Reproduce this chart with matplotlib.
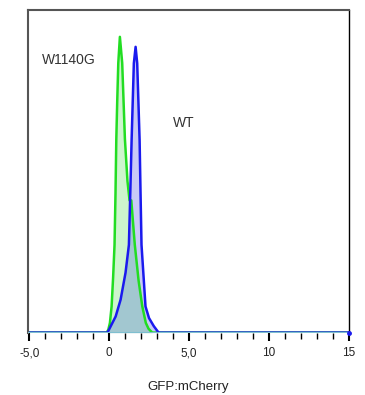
import numpy as np
import matplotlib.pyplot as plt

plt.rcParams['font.family'] = ['Liberation Sans', 'DejaVu Sans']

# W1140G histogram (green): x = GFP:mCherry, y = relative count
w1140g_x = [-5.1, -0.15, -0.05, 0.05, 0.156, 0.25, 0.34, 0.40, 0.45, 0.51, 0.575, 0.675,
            0.82, 0.99, 1.15, 1.28, 1.39, 1.50, 1.61, 1.85, 2.08, 2.30, 2.47, 2.70, 15.0]
w1140g_y = [0.0, 0.0, 0.009, 0.03, 0.081, 0.17, 0.272, 0.43, 0.598, 0.72, 0.836, 0.917,
            0.836, 0.60, 0.47, 0.41, 0.41, 0.34, 0.272, 0.16, 0.081, 0.03, 0.012, 0.0, 0.0]

# WT histogram (blue)
wt_x = [-5.1, -0.1, -0.01, 0.41, 0.72, 1.03, 1.24, 1.33, 1.41, 1.55, 1.66, 1.76,
        1.91, 1.97, 2.03, 2.28, 2.50, 2.80, 3.10, 15.0]
wt_y = [0.0, 0.0, 0.009, 0.05, 0.102, 0.186, 0.272, 0.44, 0.598, 0.835, 0.886, 0.835,
        0.598, 0.43, 0.272, 0.081, 0.045, 0.02, 0.0, 0.0]

major_ticks = [-5, 0, 5, 10, 15]
major_labels = ['-5,0', '0', '5,0', '10', '15']
minor_ticks = list(range(-4, 15))

fig = plt.figure(figsize=(3.65, 3.95), dpi=100)
ax = fig.add_axes([0.0759, 0.158, 0.879, 0.8165])

# fills: each sample, then the overlap in a muted teal
grid = np.linspace(-5.1, 15, 4000)
g_on = np.interp(grid, w1140g_x, w1140g_y)
b_on = np.interp(grid, wt_x, wt_y)
ax.fill_between(w1140g_x, 0, w1140g_y, color='#cdf5cd', lw=0)
ax.fill_between(wt_x, 0, wt_y, color='#c9c9f7', lw=0)
ax.fill_between(grid, 0, np.minimum(g_on, b_on), color='#a2c7d0', lw=0)

ax.plot(w1140g_x, w1140g_y, color='#22dd22', lw=1.8, solid_joinstyle='round')
ax.plot(wt_x, wt_y, color='#1a1aee', lw=1.8, solid_joinstyle='round')
ax.axhline(0, color='#7fbfd0', lw=1.5, zorder=3)
ax.plot([wt_x[-1]], [wt_y[-1]], marker='o', ms=2.5, color='#1a1aee', clip_on=False, zorder=4)

ax.text(-4.2, 0.845, 'W1140G', fontsize=10, color='#333333', va='center')
ax.text(4.0, 0.65, 'WT', fontsize=10, color='#333333', va='center')

ax.set_xlim(-5.1, 15.0)
ax.set_ylim(0, 1)
ax.set_yticks([])
ax.set_xticks(major_ticks)
ax.set_xticklabels(major_labels, fontsize=8.5, color='#222222')
ax.set_xticks(minor_ticks, minor=True)
ax.tick_params(axis='x', which='major', direction='out', length=6, width=1.5, pad=4.5)
ax.tick_params(axis='x', which='minor', direction='out', length=4, width=1)
ax.set_xlabel('GFP:mCherry', fontsize=9.5, color='#222222', labelpad=16)

for side in ['top', 'left']:
    ax.spines[side].set_color('#555555')
    ax.spines[side].set_linewidth(1.5)
ax.spines['right'].set_color('black')
ax.spines['right'].set_linewidth(1)
ax.spines['bottom'].set_visible(False)

fig.savefig('out.png', dpi=100)
